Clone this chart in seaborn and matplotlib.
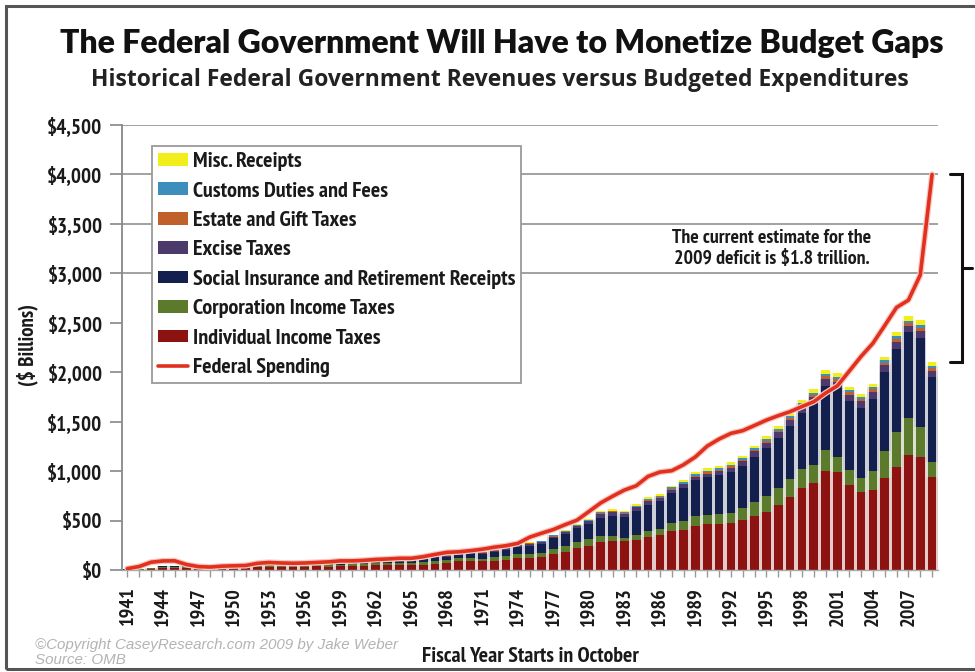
import matplotlib
matplotlib.use("Agg")
import matplotlib.pyplot as plt
import matplotlib.patheffects as pe
from matplotlib import font_manager
from matplotlib.patches import Patch, Rectangle
from matplotlib.lines import Line2D
from matplotlib.transforms import blended_transform_factory
import pandas as pd
import seaborn as sns

# ---------------------------------------------------------------- data ($ billions)
years = list(range(1941, 2010))

individual = [1.3, 3.3, 6.5, 19.7, 18.4, 16.1, 17.9, 19.3, 15.6, 15.8,
              21.6, 27.9, 29.8, 29.5, 28.7, 32.2, 35.6, 34.7, 36.7, 40.7,
              41.3, 45.6, 47.6, 48.7, 48.8, 55.4, 61.5, 68.7, 87.2, 90.4,
              86.2, 94.7, 103.2, 119.0, 122.4, 131.6, 157.6, 181.0, 217.8, 244.1,
              285.9, 297.7, 288.9, 298.4, 334.5, 349.0, 392.6, 401.2, 445.7, 466.9,
              467.8, 476.0, 509.7, 543.1, 590.2, 656.4, 737.5, 828.6, 879.5, 1004.5,
              994.3, 858.3, 793.7, 809.0, 927.2, 1043.9, 1163.5, 1145.7, 940.0]

corporation = [2.1, 4.7, 9.6, 14.8, 16.0, 11.9, 8.6, 9.7, 11.2, 10.4,
               14.1, 21.2, 21.2, 21.1, 17.9, 20.9, 21.2, 20.1, 17.3, 21.5,
               21.0, 20.5, 21.6, 23.5, 25.5, 30.1, 34.0, 28.7, 36.7, 32.8,
               26.8, 32.2, 36.2, 38.6, 40.6, 41.4, 54.9, 60.0, 65.7, 64.6,
               61.1, 49.2, 37.0, 56.9, 61.3, 63.1, 83.9, 94.5, 103.3, 93.5,
               98.1, 100.3, 117.5, 140.4, 157.0, 171.8, 182.3, 188.7, 184.7, 207.3,
               151.1, 148.0, 131.8, 189.4, 278.3, 353.9, 370.2, 304.3, 150.0]

social_insurance = [1.9, 2.5, 3.0, 3.5, 3.5, 3.1, 3.4, 3.7, 3.8, 4.3,
                    5.7, 6.4, 6.8, 7.2, 7.9, 9.3, 10.0, 11.2, 11.7, 14.7,
                    16.4, 17.0, 19.8, 22.0, 22.2, 25.5, 32.6, 33.9, 39.0, 44.4,
                    47.3, 52.6, 63.1, 75.1, 84.5, 90.8, 106.5, 121.0, 138.9, 157.8,
                    182.7, 201.5, 209.0, 239.4, 265.2, 283.9, 303.3, 334.3, 359.4, 380.0,
                    396.0, 413.7, 428.3, 461.5, 484.5, 509.4, 539.4, 571.8, 611.8, 652.9,
                    694.0, 700.8, 713.0, 733.4, 794.1, 837.8, 869.6, 900.2, 860.0]

excise = [2.6, 3.4, 4.1, 4.8, 6.3, 6.7, 7.2, 7.4, 7.5, 7.6,
          8.6, 8.9, 9.9, 9.9, 9.1, 10.0, 11.0, 10.8, 10.6, 11.7,
          11.9, 12.5, 13.2, 13.7, 14.6, 13.1, 13.7, 14.1, 15.2, 15.7,
          16.6, 15.5, 16.3, 16.8, 16.6, 17.0, 17.5, 18.4, 18.7, 24.3,
          40.8, 36.3, 35.3, 37.4, 36.0, 32.9, 32.5, 35.2, 34.4, 35.3,
          42.4, 45.6, 48.1, 55.2, 57.5, 54.0, 56.9, 57.7, 70.4, 68.9,
          66.2, 67.0, 67.5, 69.9, 73.1, 74.0, 65.1, 67.3, 65.0]

estate_gift = [0.4, 0.4, 0.4, 0.5, 0.6, 0.7, 0.8, 0.9, 0.8, 0.7,
               0.7, 0.8, 0.9, 0.9, 0.9, 1.2, 1.4, 1.4, 1.3, 1.6,
               1.9, 2.0, 2.2, 2.4, 2.7, 3.1, 3.0, 3.1, 3.5, 3.6,
               3.7, 5.4, 4.9, 5.0, 4.6, 5.2, 7.3, 5.3, 5.4, 6.4,
               6.8, 8.0, 6.1, 6.0, 6.4, 7.0, 7.5, 7.6, 8.7, 11.5,
               11.1, 11.1, 12.6, 15.2, 14.8, 17.2, 19.8, 24.1, 27.8, 29.0,
               28.4, 26.5, 22.0, 24.8, 24.8, 27.9, 26.0, 28.8, 25.0]

customs = [0.4, 0.4, 0.3, 0.4, 0.3, 0.4, 0.5, 0.4, 0.4, 0.4,
           0.6, 0.5, 0.6, 0.6, 0.6, 0.7, 0.8, 0.8, 0.9, 1.1,
           1.0, 1.1, 1.2, 1.3, 1.4, 1.8, 1.9, 2.0, 2.3, 2.4,
           2.6, 3.3, 3.2, 3.3, 3.7, 4.1, 5.2, 6.6, 7.4, 7.2,
           8.1, 8.9, 8.7, 11.4, 12.1, 13.3, 15.1, 16.2, 16.3, 16.7,
           15.9, 17.4, 18.8, 20.1, 19.3, 18.7, 17.9, 18.3, 18.3, 19.9,
           19.4, 18.6, 19.9, 21.1, 23.4, 24.8, 26.0, 27.6, 23.0]

misc = [0.1, 0.1, 0.1, 0.1, 0.1, 0.3, 0.1, 0.2, 0.1, 0.3,
        0.3, 0.5, 0.4, 0.5, 0.4, 0.3, 0.1, 0.6, 0.7, 1.3,
        0.9, 0.9, 1.1, 1.0, 1.7, 1.8, 2.1, 2.5, 2.9, 3.5,
        3.9, 3.7, 3.9, 5.4, 6.6, 7.9, 6.5, 7.4, 9.3, 12.7,
        13.8, 16.1, 15.5, 17.0, 18.4, 19.9, 19.4, 20.2, 23.3, 28.1,
        23.7, 27.2, 19.2, 23.1, 28.6, 25.6, 25.5, 32.6, 35.0, 42.8,
        37.7, 33.9, 34.3, 32.6, 32.7, 44.6, 47.6, 50.1, 45.0]

federal_spending = [13.7, 35.1, 78.6, 91.3, 92.7, 55.2, 34.5, 29.8, 38.8, 42.6,
                    45.5, 67.7, 76.1, 70.9, 68.4, 70.6, 76.6, 82.4, 92.1, 92.2,
                    97.7, 106.8, 111.3, 118.5, 118.2, 134.5, 157.5, 178.1, 183.6, 195.6,
                    210.2, 230.7, 245.7, 269.4, 332.3, 371.8, 409.2, 458.7, 504.0, 590.9,
                    678.2, 745.7, 808.4, 851.8, 946.3, 990.4, 1004.0, 1064.4, 1143.7, 1253.0,
                    1324.2, 1381.5, 1409.4, 1461.8, 1515.7, 1560.5, 1601.1, 1652.5, 1701.8, 1789.0,
                    1862.8, 2010.9, 2159.9, 2292.8, 2472.0, 2655.1, 2728.7, 2982.5, 4000.0]

# legend / stacking order, top of the stack first
source_names = ["Misc. Receipts", "Customs Duties and Fees", "Estate and Gift Taxes",
                "Excise Taxes", "Social Insurance and Retirement Receipts",
                "Corporation Income Taxes", "Individual Income Taxes"]
source_values = [misc, customs, estate_gift, excise, social_insurance,
                 corporation, individual]
source_colors = ["#f2ee1c", "#3d8dbd", "#c0612c", "#4b3a6b", "#13204d",
                 "#5b7a2c", "#8d1212"]
spending_color = "#e1301f"

y_ticks = [0, 500, 1000, 1500, 2000, 2500, 3000, 3500, 4000, 4500]
y_tick_labels = ["$0", "$500", "$1,000", "$1,500", "$2,000", "$2,500",
                 "$3,000", "$3,500", "$4,000", "$4,500"]
grid_levels = [3000, 3500, 4000, 4500]
labelled_years = list(range(1941, 2010, 3))

# ---------------------------------------------------------------- style
sns.set_theme(style="white")
names = {f.name for f in font_manager.fontManager.ttflist}


def pick(*cands):
    for c in cands:
        if c in names:
            return c
    return "DejaVu Sans"


narrow = pick("PT Sans Narrow", "Fira Sans Condensed", "Roboto Condensed", "Lato")
head = pick("Lato", "Open Sans")
sub = pick("Open Sans", "Lato")
italic = pick("Liberation Sans", "DejaVu Sans")
plt.rcParams["font.family"] = [narrow, "DejaVu Sans"]
plt.rcParams["font.weight"] = "bold"

W, H = 975, 672
fig = plt.figure(figsize=(W / 100, H / 100), dpi=100)
fig.patch.set_facecolor("white")
renderer = fig.canvas.get_renderer()


def size_for(text, target_px, family, weight="bold", base=12):
    t = fig.text(0, 0, text, fontsize=base, family=[family, "DejaVu Sans"],
                 fontweight=weight)
    w = t.get_window_extent(renderer).width
    t.remove()
    return base * target_px / w


def fit_width(txt, target_px):
    w = txt.get_window_extent(renderer).width
    txt.set_fontsize(txt.get_fontsize() * target_px / w)


ax_left, ax_right, ax_top, ax_bottom = 122, 938, 125, 570
ax = fig.add_axes([ax_left / W, 1 - ax_bottom / H,
                   (ax_right - ax_left) / W, (ax_bottom - ax_top) / H])
ax.set_facecolor("white")

long = pd.DataFrame({
    "year": [y for _ in source_names for y in years],
    "source": [n for n in source_names for _ in years],
    "value": [v for vals in source_values for v in vals],
})
palette = dict(zip(source_names, source_colors))

# soft tint between the bars, then the stacked bars themselves
sns.histplot(data=long, x="year", weights="value", hue="source",
             hue_order=source_names, multiple="stack", discrete=True,
             shrink=1.0, palette=palette, alpha=0.22, linewidth=0,
             legend=False, ax=ax)
sns.histplot(data=long, x="year", weights="value", hue="source",
             hue_order=source_names, multiple="stack", discrete=True,
             shrink=0.74, palette=palette, alpha=1.0, linewidth=0,
             legend=False, ax=ax)

sns.lineplot(x=years, y=federal_spending, color=spending_color, lw=2.6,
             ax=ax, zorder=5,
             path_effects=[pe.Stroke(linewidth=4.4, foreground="#f6c9bf"),
                           pe.Normal()])

for g in grid_levels:
    ax.axhline(g, color="#9a9a9a", lw=1.3, zorder=0.5)

ax.set_xlim(years[0] - 0.45, years[-1] + 0.5)
ax.set_ylim(0, 4500)
ax.set_xlabel("")
ax.set_ylabel("")

tick_color = "#1a1a1a"
ytick_size = size_for("$4,000", 55, narrow)
xtick_size = size_for("1941", 39, narrow)
ax.set_yticks(y_ticks)
ax.set_yticklabels(y_tick_labels, fontsize=ytick_size, fontweight="bold",
                   color=tick_color)
ax.set_xticks(years)
ax.set_xticklabels([str(y) if y in labelled_years else "" for y in years],
                   rotation=90, fontsize=xtick_size, fontweight="bold",
                   color=tick_color)
ax.tick_params(axis="y", direction="out", length=9, width=1.2, color="#888888",
               pad=5, left=True)
ax.tick_params(axis="x", direction="out", length=5, width=1.0, color="#999999",
               pad=7, bottom=True)

for side in ["top", "right"]:
    ax.spines[side].set_visible(False)
ax.spines["left"].set_color("#888888")
ax.spines["left"].set_linewidth(1.3)
ax.spines["bottom"].set_color("#aaaaaa")
ax.spines["bottom"].set_linewidth(1.0)

# ---------------------------------------------------------------- legend
legend_size = size_for("Social Insurance and Retirement Receipts", 322, narrow)
handles = [Patch(facecolor=c, edgecolor="none") for c in source_colors]
handles.append(Line2D([0], [0], color=spending_color, lw=2.6))
labels = source_names + ["Federal Spending"]
leg = ax.legend(handles, labels, loc="upper left",
                bbox_to_anchor=(152 / W, 1 - 146 / H),
                bbox_transform=fig.transFigure, frameon=True, fancybox=False,
                borderaxespad=0, borderpad=0.28, labelspacing=0.47,
                handlelength=1.35, handleheight=0.5, handletextpad=0.2,
                prop={"family": [narrow, "DejaVu Sans"], "weight": "bold",
                      "size": legend_size})
leg.get_frame().set_edgecolor("#9a9a9a")
leg.get_frame().set_linewidth(1.3)
leg.get_frame().set_facecolor("white")
leg.get_frame().set_alpha(1)
leg.set_zorder(10)
for t in leg.get_texts():
    t.set_color(tick_color)

# ---------------------------------------------------------------- text
title = fig.text(502 / W, 1 - 43 / H,
                 "The Federal Government Will Have to Monetize Budget Gaps",
                 ha="center", va="center", fontsize=20, fontweight=800,
                 family=[head, "DejaVu Sans"], color="#111111")
fit_width(title, 885)
subtitle = fig.text(500 / W, 1 - 80 / H,
                    "Historical Federal Government Revenues versus Budgeted Expenditures",
                    ha="center", va="center", fontsize=15, fontweight="bold",
                    family=[sub, "DejaVu Sans"], color="#222222")
fit_width(subtitle, 818)

ylab = fig.text(27 / W, 1 - 345 / H, "($ Billions)", rotation=90, ha="center",
                va="center", fontweight="bold", color=tick_color,
                fontsize=size_for("($ Billions)", 82, narrow))
xlab = fig.text(530 / W, 1 - 657 / H, "Fiscal Year Starts in October",
                ha="center", va="center", fontsize=13, fontweight="bold",
                color=tick_color)
fit_width(xlab, 216)

c1 = fig.text(35 / W, 1 - 645 / H,
              "\u00a9Copyright CaseyResearch.com 2009 by Jake Weber",
              ha="left", va="center", fontsize=9, fontstyle="italic",
              fontweight="normal", family=[italic], color="#b3b3b3")
fit_width(c1, 365)
fig.text(35 / W, 1 - 660 / H, "Source: OMB", ha="left", va="center",
         fontsize=c1.get_fontsize(), fontstyle="italic", fontweight="normal",
         family=[italic], color="#b3b3b3")

note = ax.text(0.796, 3250, "The current estimate for the\n2009 deficit is $1.8 trillion.",
               transform=blended_transform_factory(ax.transAxes, ax.transData),
               ha="center", va="center", fontweight="bold",
               linespacing=1.25, color=tick_color,
               fontsize=size_for("The current estimate for the", 198, narrow))

# bracket spanning the final year's gap between spending and receipts
revenue_last = sum(vals[-1] for vals in source_values)
spend_last = federal_spending[-1]
bt = blended_transform_factory(fig.transFigure, ax.transData)
bx, arm, tip = 962 / W, 12 / W, 10 / W
ax.plot([bx - arm, bx, bx, bx - arm], [spend_last, spend_last, revenue_last, revenue_last],
        transform=bt, color="#111111", lw=2.2, clip_on=False,
        solid_joinstyle="miter")
mid = (spend_last + revenue_last) / 2
ax.plot([bx, bx + tip], [mid, mid], transform=bt, color="#111111", lw=2.2,
        clip_on=False)

# outer frame
fig.add_artist(Rectangle((6 / W, 1 - 669 / H), 1.2, (669 - 6) / H,
                         transform=fig.transFigure, fill=False,
                         edgecolor="#555555", lw=2.2))

fig.savefig("out.png", dpi=100, facecolor="white")
